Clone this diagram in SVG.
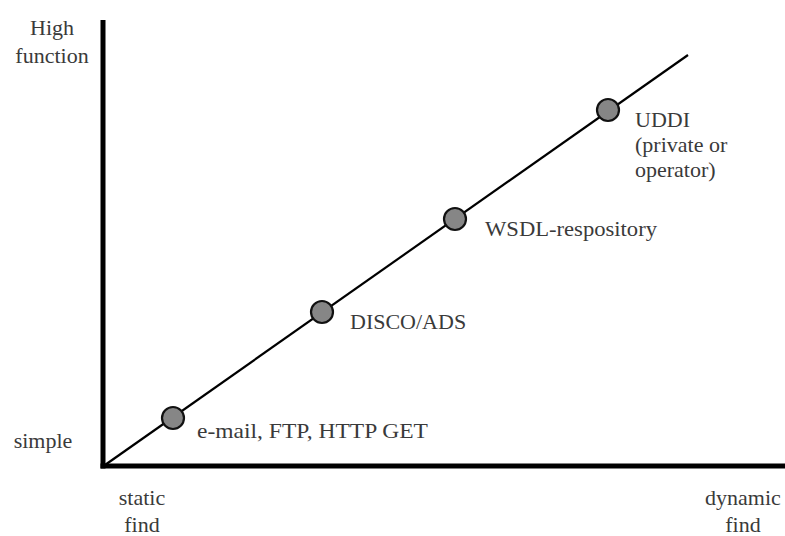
<svg xmlns="http://www.w3.org/2000/svg" width="785" height="536" viewBox="0 0 785 536">
<style>
text{font-family:"Liberation Serif","Times New Roman",serif;font-size:22px;fill:#3a3a3a}
.axis{stroke:#000;stroke-width:5;fill:none}
.diag{stroke:#000;stroke-width:2.2;fill:none}
.node circle{fill:#868686;stroke:#111;stroke-width:2.2}
</style>
<rect width="785" height="536" fill="#fff"/>
<g id="axes">
<line class="axis" x1="103" y1="20" x2="103" y2="468.5"/>
<line class="axis" x1="100.5" y1="466" x2="785" y2="466"/>
</g>
<g id="connectors">
<line class="diag" x1="105" y1="465" x2="688" y2="55"/>
</g>
<g id="n1" class="node"><circle cx="173" cy="418" r="11"/><text x="197" y="438" textLength="231" lengthAdjust="spacingAndGlyphs">e-mail, FTP, HTTP GET</text></g>
<g id="n2" class="node"><circle cx="322" cy="312" r="11"/><text x="350" y="329">DISCO/ADS</text></g>
<g id="n3" class="node"><circle cx="455" cy="219" r="11"/><text x="485" y="236" textLength="172" lengthAdjust="spacingAndGlyphs">WSDL-respository</text></g>
<g id="n4" class="node"><circle cx="608" cy="110" r="11"/><text x="635" y="127">UDDI</text><text x="635" y="152">(private or</text><text x="635" y="177">operator)</text></g>
<g id="labels">
<text x="52" y="35" text-anchor="middle">High</text>
<text x="52" y="63" text-anchor="middle">function</text>
<text x="43" y="448" text-anchor="middle">simple</text>
<text x="142" y="505" text-anchor="middle">static</text>
<text x="142" y="532" text-anchor="middle">find</text>
<text x="743" y="505" text-anchor="middle">dynamic</text>
<text x="743" y="532" text-anchor="middle">find</text>
</g>
</svg>
